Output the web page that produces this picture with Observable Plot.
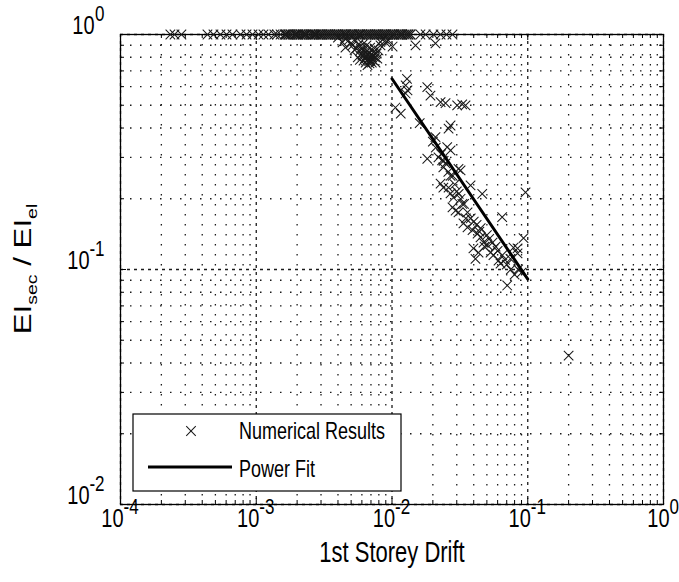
<!DOCTYPE html>
<html><head><meta charset="utf-8">
<script src="https://cdn.jsdelivr.net/npm/d3@7"></script>
<script src="https://cdn.jsdelivr.net/npm/@observablehq/plot@0.6"></script>
<style>body{margin:0;background:#fff}</style>
</head><body><div id="chart"></div>
<script>
// ---- data: [1st storey drift, EIsec/EIel] ----
const plateauPoints = [
 [0.000233,1],[0.00025,1],[0.000281,1],[0.000437,1],[0.000484,1],[0.000545,1],[0.000604,1],[0.000668,1],
 [0.000766,1],[0.000848,1],[0.000938,1],[0.00104,1],[0.00113,1],[0.00123,1],[0.00136,1],[0.00142,1],
 [0.00151,1],[0.00164,1],[0.00172,1],[0.00179,1],[0.00195,1],[0.00203,1],[0.00212,1],[0.00221,1],
 [0.00231,1],[0.00251,1],[0.00262,1],[0.00273,1],[0.00288,1],[0.00298,1],[0.00308,1],[0.00329,1],
 [0.0034,1],[0.00352,1],[0.00377,1],[0.0039,1],[0.00404,1],[0.00432,1],[0.0045,1],[0.00462,1],
 [0.00494,1],[0.0051,1],[0.00529,1],[0.00566,1],[0.0058,1],[0.00606,1],[0.00649,1],[0.0067,1],
 [0.00695,1],[0.00743,1],[0.0077,1],[0.00796,1],[0.00851,1],[0.0088,1],[0.0091,1],[0.00975,1],
 [0.0101,1],[0.0104,1],[0.0112,1],[0.0116,1],[0.0119,1],[0.0128,1],[0.0132,1],[0.0137,1],
 [0.0162,1],[0.0177,1],[0.0202,1],[0.0228,1],[0.0252,1],[0.0279,1],
 [0.001615,1],[0.001671,1],[0.001728,1],[0.001788,1],[0.00185,1],[0.001914,1],[0.00198,1],[0.002048,1],
 [0.002119,1],[0.002192,1],[0.002268,1],[0.002346,1],[0.002427,1],[0.002511,1],[0.002597,1],[0.002687,1],
 [0.00278,1],[0.002876,1],[0.002975,1],[0.003078,1],[0.003184,1],[0.003294,1],[0.003407,1],[0.003525,1],
 [0.003647,1],[0.003772,1],[0.003903,1],[0.004037,1],[0.004177,1],[0.004321,1],[0.00447,1],[0.004624,1],
 [0.004784,1],[0.004949,1],[0.00512,1],[0.005296,1],[0.005479,1],[0.005668,1],[0.005864,1],[0.006066,1],
 [0.006275,1],[0.006492,1],[0.006716,1],[0.006948,1],[0.007187,1],[0.007435,1],[0.007692,1],[0.007957,1],
 [0.008232,1],[0.008516,1],[0.00881,1],[0.009114,1],[0.009428,1],[0.009754,1],[0.01009,1],[0.01044,1],
 [0.0108,1],[0.01117,1],[0.01156,1],[0.01196,1],[0.01237,1],[0.0128,1],[0.01324,1],[0.01369,1]
];
const kneePoints = [
 [0.00432,0.925],[0.00478,0.943],[0.00512,0.898],[0.00547,0.872],[0.00586,0.855],[0.00606,0.814],
 [0.00638,0.838],[0.00671,0.79],[0.00695,0.775],[0.00718,0.814],[0.00756,0.76],[0.00649,0.898],
 [0.00566,0.907],[0.00796,0.855],[0.00823,0.898],[0.00896,0.925],[0.00942,0.943],[0.0101,0.889],
 [0.00617,0.775],[0.00683,0.753],[0.00743,0.872],[0.00538,0.943],[0.00454,0.88],[0.0149,0.898],
 [0.0209,0.916],[0.0066,0.82],[0.0071,0.8],[0.0062,0.86],
 [0.0056,0.80],[0.0058,0.78],[0.0060,0.83],[0.0063,0.79],[0.0064,0.76],[0.0065,0.81],[0.0067,0.84],
 [0.0068,0.77],[0.0070,0.82],[0.0072,0.78],[0.0073,0.84],[0.0075,0.80],[0.0077,0.83],[0.0059,0.87],
 [0.0061,0.91],[0.0069,0.88],[0.0078,0.79],[0.0066,0.74],[0.0071,0.76],[0.0053,0.86],[0.0050,0.92],
 [0.0082,0.93],[0.0087,0.96],[0.0045,0.96],[0.0040,0.97]
];
const trendPoints = [
 [0.0129,0.648],[0.0126,0.607],[0.0130,0.578],[0.0126,0.561],[0.0182,0.597],[0.0192,0.55],
 [0.0228,0.515],[0.0248,0.51],[0.0302,0.499],[0.0329,0.504],[0.0348,0.499],[0.0106,0.489],
 [0.0116,0.461],[0.0270,0.41],[0.0261,0.398],[0.0209,0.366],[0.0255,0.332],[0.0270,0.321],
 [0.0182,0.296],[0.0234,0.291],[0.0239,0.272],[0.0248,0.283],[0.0309,0.268],[0.0320,0.264],
 [0.0379,0.228],[0.0228,0.232],[0.0239,0.223],[0.0261,0.223],[0.0270,0.211],[0.0284,0.202],
 [0.0462,0.21],[0.0963,0.213],[0.0279,0.184],[0.0294,0.178],[0.0309,0.175],[0.0336,0.157],
 [0.0360,0.151],[0.0648,0.167],[0.0392,0.147],[0.0427,0.142],[0.0449,0.137],[0.0472,0.130],
 [0.0505,0.127],[0.0398,0.123],[0.0434,0.118],[0.0532,0.118],[0.0559,0.115],[0.0412,0.111],
 [0.0609,0.109],[0.0931,0.136],[0.0785,0.124],[0.0841,0.123],[0.0841,0.117],[0.063,0.106],
 [0.0746,0.111],[0.0706,0.0855],[0.016,0.42],[0.020,0.35],[0.022,0.30],[0.028,0.25],
 [0.033,0.19],[0.030,0.215],[0.035,0.165],[0.040,0.16],[0.045,0.15],[0.050,0.14],
 [0.055,0.13],[0.060,0.12],[0.065,0.115],[0.070,0.105],[0.075,0.10],[0.080,0.095],
 [0.048,0.125],[0.021,0.33],[0.023,0.31],[0.024,0.29],[0.026,0.26],[0.027,0.25],[0.029,0.23],
 [0.031,0.21],[0.032,0.20],[0.034,0.19],[0.036,0.175],[0.038,0.165],[0.042,0.155],[0.044,0.145],
 [0.052,0.135],[0.058,0.125],[0.068,0.11],[0.085,0.10],[0.09,0.097],
 [0.2,0.043]
];
// power fit endpoints
const fitDrift = [0.01, 0.1];
const fitRatio = [0.648, 0.091];

// ticks
const xMajor = [1e-4, 1e-3, 1e-2, 1e-1, 1];
const yMajor = [1e-2, 1e-1, 1];
const xExp = ["-4", "-3", "-2", "-1", "0"];
const yExp = ["-2", "-1", "0"];
const minorMult = [2,3,4,5,6,7,8,9];
const xMinor = xMajor.slice(0,-1).flatMap(d => minorMult.map(m => m*d));
const yMinor = yMajor.slice(0,-1).flatMap(d => minorMult.map(m => m*d));

const points = [...plateauPoints, ...kneePoints, ...trendPoints].map(([x,y]) => ({x,y}));
const fit = fitDrift.map((x,i) => ({x, y: fitRatio[i]}));

const W = 679, H = 582, mL = 120, mR = 16, mT = 34, mB = 78;
const pw = W - mL - mR, ph = H - mT - mB;
const gridCol = "#1a1a1a";
const FS = 20, ES = 17, K = 1.3;
const FONT = "'Liberation Sans', Arial, sans-serif";

const xLab = xMajor.map((d,i) => ({d, e: xExp[i]}));
const yLab = yMajor.map((d,i) => ({d, e: yExp[i]}));
const neg = t => t.e !== "0", zero = t => t.e === "0";

const chart = Plot.plot({
  width: W, height: H,
  marginLeft: mL, marginRight: mR, marginTop: mT, marginBottom: mB,
  x: {type: "log", domain: [1e-4, 1], axis: null},
  y: {type: "log", domain: [1e-2, 1], axis: null},
  style: {fontFamily: FONT, background: "white", color: "black"},
  marks: [
    // grid
    Plot.ruleX(xMinor, {stroke: gridCol, strokeWidth: 1.3, strokeDasharray: "1.5,8.5"}),
    Plot.ruleY(yMinor, {stroke: gridCol, strokeWidth: 1.3, strokeDasharray: "1.5,8.5"}),
    Plot.ruleX(xMajor, {stroke: gridCol, strokeWidth: 1.3, strokeDasharray: "3,4"}),
    Plot.ruleY(yMajor, {stroke: gridCol, strokeWidth: 1.3, strokeDasharray: "3,4"}),
    // inward ticks
    Plot.ruleX(xMajor, {stroke: "black", insetTop: ph - 6}),
    Plot.ruleX(xMajor, {stroke: "black", insetBottom: ph - 6}),
    Plot.ruleX(xMinor, {stroke: "black", insetTop: ph - 4}),
    Plot.ruleX(xMinor, {stroke: "black", insetBottom: ph - 4}),
    Plot.ruleY(yMajor, {stroke: "black", insetRight: pw - 6}),
    Plot.ruleY(yMajor, {stroke: "black", insetLeft: pw - 6}),
    Plot.ruleY(yMinor, {stroke: "black", insetRight: pw - 4}),
    Plot.ruleY(yMinor, {stroke: "black", insetLeft: pw - 4}),
    Plot.frame({stroke: "black", strokeWidth: 1.3}),
    // data
    Plot.dot(points, {x: "x", y: "y", symbol: "times", r: 4.4, stroke: "#1a1a1a", strokeWidth: 1.05}),
    Plot.line(fit, {x: "x", y: "y", stroke: "black", strokeWidth: 3}),
    // x tick labels
    Plot.text(xLab.filter(neg), {x: "d", frameAnchor: "bottom", text: () => "10", textAnchor: "end", dx: 3, dy: 22, fontSize: FS, fill: "black"}),
    Plot.text(xLab.filter(neg), {x: "d", frameAnchor: "bottom", text: "e", textAnchor: "start", dx: 3, dy: 9, fontSize: ES, fill: "black"}),
    Plot.text(xLab.filter(zero), {x: "d", frameAnchor: "bottom", text: () => "10", textAnchor: "end", dx: 6, dy: 22, fontSize: FS, fill: "black"}),
    Plot.text(xLab.filter(zero), {x: "d", frameAnchor: "bottom", text: "e", textAnchor: "start", dx: 6, dy: 9, fontSize: ES, fill: "black"}),
    // y tick labels (right-aligned)
    Plot.text(yLab.filter(neg), {y: "d", frameAnchor: "left", text: () => "10", textAnchor: "end", dx: -31, dy: -1, fontSize: FS, fill: "black"}),
    Plot.text(yLab.filter(zero), {y: "d", frameAnchor: "left", text: () => "10", textAnchor: "end", dx: -26, dy: -1, fontSize: FS, fill: "black"}),
    Plot.text(yLab, {y: "d", frameAnchor: "left", text: "e", textAnchor: "end", dx: -16, dy: -14, fontSize: ES, fill: "black"}),
    // x title
    Plot.text(["1st Storey Drift"], {frameAnchor: "bottom", text: d => d, dy: 57, fontSize: 22, fill: "black"})
  ]
});

const svg = d3.select(chart);

// legend
const lg = svg.append("g");
lg.append("rect").attr("x", 133).attr("y", 414).attr("width", 268).attr("height", 77)
  .attr("fill", "white").attr("stroke", "black").attr("stroke-width", 1.2);
lg.append("path").attr("d", d3.symbol(d3.symbolTimes, Math.PI * 4.4 * 4.4)())
  .attr("transform", "translate(191,431)").attr("fill", "none").attr("stroke", "#1a1a1a").attr("stroke-width", 1.05);
lg.append("line").attr("x1", 148).attr("x2", 232).attr("y1", 467).attr("y2", 467)
  .attr("stroke", "black").attr("stroke-width", 3);
lg.selectAll("text.l").data(["Numerical Results", "Power Fit"]).join("text")
  .attr("class", "l")
  .attr("x", 239).attr("y", (d,i) => i ? 469 : 431).attr("dy", "0.35em")
  .attr("text-anchor", "start")
  .attr("font-family", FONT).attr("font-size", 18).attr("fill", "black")
  .text(d => d);

// vertical stretch of horizontal texts (the reference glyphs are tall)
svg.selectAll("text").each(function() {
  const x = +this.getAttribute("x") || 0, y = +this.getAttribute("y") || 0;
  this.removeAttribute("x"); this.removeAttribute("y");
  const t = this.getAttribute("transform") || "";
  this.setAttribute("transform", `${t} translate(${x},${y}) scale(1,${K})`);
});

// y-axis title with subscripts (stretched along its length)
const yt = svg.append("text")
  .attr("transform", `translate(31,${mT + ph/2}) scale(1,${K}) rotate(-90)`)
  .attr("text-anchor", "middle")
  .attr("font-family", FONT)
  .attr("font-size", 24).attr("fill", "black");
yt.append("tspan").text("EI");
yt.append("tspan").attr("font-size", 15).attr("dy", 6).text("sec");
yt.append("tspan").attr("dy", -6).text(" / EI");
yt.append("tspan").attr("font-size", 15).attr("dy", 6).text("el");

document.getElementById("chart").appendChild(chart);
</script>
</body></html>
